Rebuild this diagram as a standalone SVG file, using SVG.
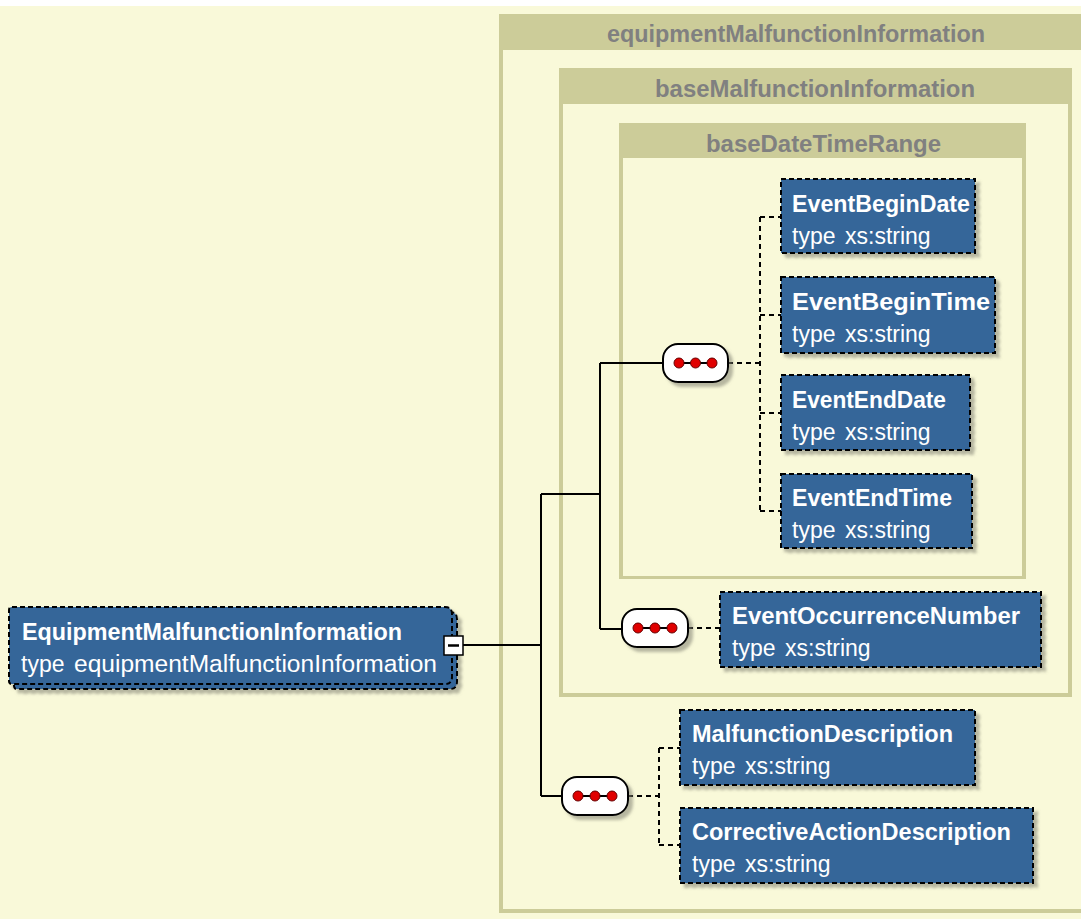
<svg xmlns="http://www.w3.org/2000/svg" width="1081" height="919" viewBox="0 0 1081 919">
<defs>
<style>
.bg{fill:#F9F9D9}
.olive{fill:#CCCC99}
.cream{fill:#F9F9D9}
.hdr{font-family:"Liberation Sans",Arial,sans-serif;font-weight:bold;font-size:23px;fill:#808080}
.el{fill:#346699;stroke:#000;stroke-width:2;stroke-dasharray:5 3}
.lbl{font-family:"Liberation Sans",Arial,sans-serif;font-weight:bold;font-size:23px;fill:#FFFFFF}
.typ{font-family:"Liberation Sans",Arial,sans-serif;font-size:23px;fill:#FFFFFF}
.solid{fill:none;stroke:#000;stroke-width:2}
.dash{fill:none;stroke:#000;stroke-width:2;stroke-dasharray:5 4}
.comp{fill:#FFFFFF;stroke:#000;stroke-width:2}
.dot{fill:#E00000;stroke:#600;stroke-width:1}
</style>
<filter id="sh" x="-10%" y="-10%" width="130%" height="140%">
<feDropShadow dx="4" dy="4" stdDeviation="1.5" flood-color="#808070" flood-opacity="0.55"/>
</filter>
</defs>
<rect x="0" y="0" width="1081" height="919" fill="#FFFFFF"/>
<rect class="bg" x="0" y="6" width="1081" height="913"/>

<g id="type-equipmentMalfunctionInformation">
<rect class="olive" x="499" y="14" width="600" height="899"/>
<rect class="cream" x="503" y="50" width="596" height="859"/>
<text class="hdr" x="607" y="42" textLength="378" lengthAdjust="spacingAndGlyphs">equipmentMalfunctionInformation</text>
</g>
<g id="type-baseMalfunctionInformation">
<rect class="olive" x="559" y="68" width="513" height="629"/>
<rect class="cream" x="563" y="104" width="505" height="589"/>
<text class="hdr" x="655" y="97" textLength="320" lengthAdjust="spacingAndGlyphs">baseMalfunctionInformation</text>
</g>
<g id="type-baseDateTimeRange">
<rect class="olive" x="619" y="123" width="407" height="456"/>
<rect class="cream" x="623" y="158" width="399" height="418"/>
<text class="hdr" x="706" y="152" textLength="235" lengthAdjust="spacingAndGlyphs">baseDateTimeRange</text>
</g>

<g id="connectors">
<path class="solid" d="M463 645H541M541 494V796M541 494H600M600 363V629M600 363H663M600 629H622M541 796H562"/>
<path class="dash" d="M728 363H760M760 217V511M760 217H781M760 315H781M760 413H781M760 511H781"/>
<path class="dash" d="M688 628H720"/>
<path class="dash" d="M628 796H659M659 748V845M659 748H680M659 845H680"/>
</g>

<g id="seq1" filter="url(#sh)">
<rect class="comp" x="663" y="344" width="65" height="38" rx="15"/>
<path d="M678 363H712" stroke="#000" stroke-width="2"/>
<circle class="dot" cx="679" cy="363" r="5"/><circle class="dot" cx="695.5" cy="363" r="5"/><circle class="dot" cx="712" cy="363" r="5"/>
</g>
<g id="seq2" filter="url(#sh)">
<rect class="comp" x="622" y="609" width="66" height="38" rx="15"/>
<path d="M638 628H672" stroke="#000" stroke-width="2"/>
<circle class="dot" cx="638" cy="628" r="5"/><circle class="dot" cx="655" cy="628" r="5"/><circle class="dot" cx="672" cy="628" r="5"/>
</g>
<g id="seq3" filter="url(#sh)">
<rect class="comp" x="562" y="777" width="66" height="38" rx="15"/>
<path d="M578 796H612" stroke="#000" stroke-width="2"/>
<circle class="dot" cx="578" cy="796" r="5"/><circle class="dot" cx="595" cy="796" r="5"/><circle class="dot" cx="612" cy="796" r="5"/>
</g>

<g id="EquipmentMalfunctionInformation">
<g filter="url(#sh)">
<path class="el" d="M17 612H450Q457 612 457 619V682Q457 689 450 689H17Q14 689 14 686V615Q14 612 17 612Z"/>
<path class="el" d="M12 607H445Q452 607 452 614V677Q452 684 445 684H12Q9 684 9 681V610Q9 607 12 607Z"/>
</g>
<text class="lbl" x="22" y="640" textLength="380" lengthAdjust="spacingAndGlyphs">EquipmentMalfunctionInformation</text>
<text class="typ" y="672"><tspan x="21">type</tspan><tspan x="74" textLength="363" lengthAdjust="spacingAndGlyphs">equipmentMalfunctionInformation</tspan></text>
<rect x="444" y="636" width="19" height="19" fill="#FFFFFF" stroke="#000" stroke-width="1.5"/>
<path d="M448 645.5H459" stroke="#000" stroke-width="2.5"/>
</g>

<g id="EventBeginDate">
<rect class="el" x="781" y="179" width="194" height="74" filter="url(#sh)"/>
<text class="lbl" x="792" y="212" textLength="178" lengthAdjust="spacingAndGlyphs">EventBeginDate</text>
<text class="typ" y="244"><tspan x="792">type</tspan><tspan x="845">xs:string</tspan></text>
</g>
<g id="EventBeginTime">
<rect class="el" x="781" y="277" width="214" height="76" filter="url(#sh)"/>
<text class="lbl" x="792" y="310" textLength="198" lengthAdjust="spacingAndGlyphs">EventBeginTime</text>
<text class="typ" y="342"><tspan x="792">type</tspan><tspan x="845">xs:string</tspan></text>
</g>
<g id="EventEndDate">
<rect class="el" x="781" y="375" width="189" height="75" filter="url(#sh)"/>
<text class="lbl" x="792" y="408" textLength="154" lengthAdjust="spacingAndGlyphs">EventEndDate</text>
<text class="typ" y="440"><tspan x="792">type</tspan><tspan x="845">xs:string</tspan></text>
</g>
<g id="EventEndTime">
<rect class="el" x="781" y="474" width="191" height="74" filter="url(#sh)"/>
<text class="lbl" x="792" y="506" textLength="160" lengthAdjust="spacingAndGlyphs">EventEndTime</text>
<text class="typ" y="538"><tspan x="792">type</tspan><tspan x="845">xs:string</tspan></text>
</g>
<g id="EventOccurrenceNumber">
<rect class="el" x="720" y="592" width="321" height="75" filter="url(#sh)"/>
<text class="lbl" x="732" y="624" textLength="288" lengthAdjust="spacingAndGlyphs">EventOccurrenceNumber</text>
<text class="typ" y="656"><tspan x="732">type</tspan><tspan x="785">xs:string</tspan></text>
</g>
<g id="MalfunctionDescription">
<rect class="el" x="680" y="710" width="295" height="75" filter="url(#sh)"/>
<text class="lbl" x="692" y="742" textLength="261" lengthAdjust="spacingAndGlyphs">MalfunctionDescription</text>
<text class="typ" y="774"><tspan x="692">type</tspan><tspan x="745">xs:string</tspan></text>
</g>
<g id="CorrectiveActionDescription">
<rect class="el" x="680" y="808" width="353" height="75" filter="url(#sh)"/>
<text class="lbl" x="692" y="840" textLength="319" lengthAdjust="spacingAndGlyphs">CorrectiveActionDescription</text>
<text class="typ" y="872"><tspan x="692">type</tspan><tspan x="745">xs:string</tspan></text>
</g>
</svg>
